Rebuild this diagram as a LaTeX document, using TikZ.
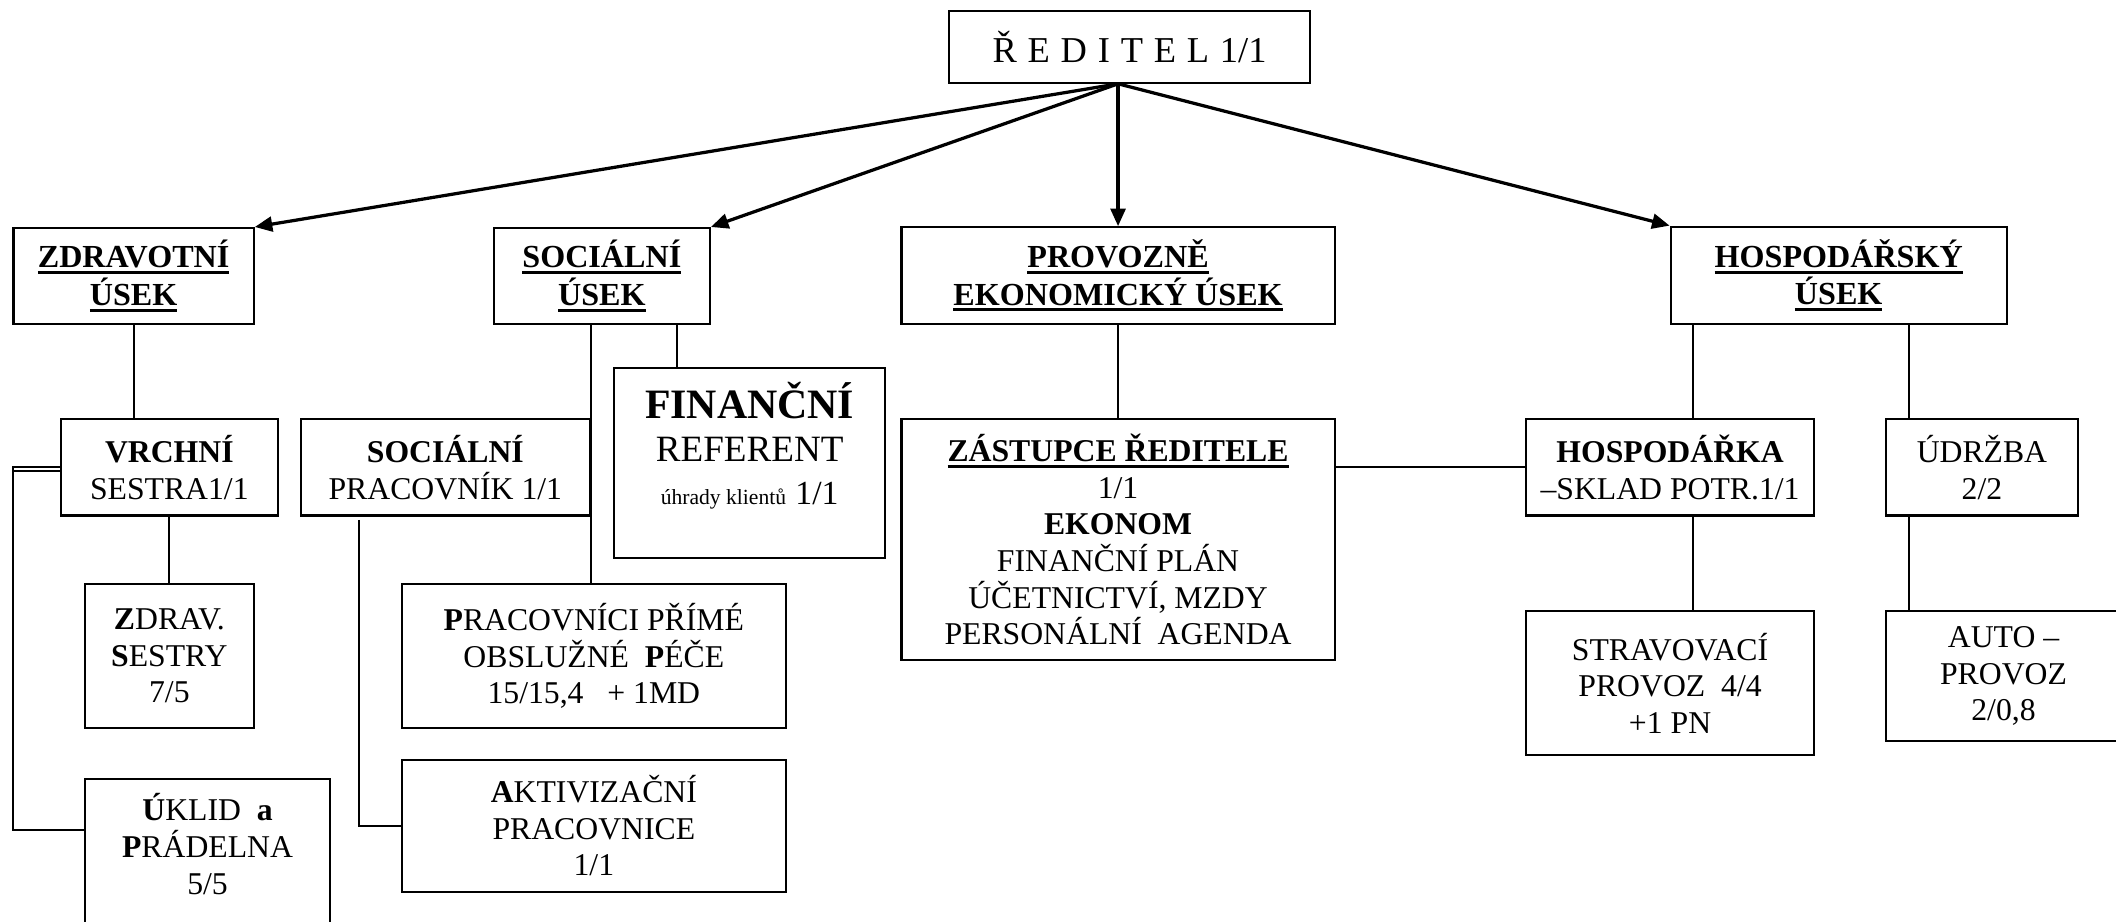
\documentclass[tikz,border=0pt]{standalone}
\usepackage{fontspec}
\setmainfont{Liberation Serif}
\usetikzlibrary{arrows.meta,calc}
\newcommand{\ulx}[1]{\setbox0=\hbox{#1}\makebox[0pt][l]{\rule[-4.6pt]{\wd0}{2.2pt}}\box0}
\newcommand{\gp}{\hspace{8pt}}
\newcommand{\obox}[7][box]{\node[#1, minimum width={(#5)-(#3)}, minimum height={(#6)-(#4)}] (#2) at ({((#3)+(#5))/2},{((#4)+(#6))/2}) {#7};}
\begin{document}
\begin{tikzpicture}[x=1pt,y=-1pt,
  box/.style={draw, line width=1.6pt, inner sep=0pt, align=center, font=\fontsize{23.5}{27.1}\selectfont},
  hd/.style={box, font=\fontsize{23.8}{27.7}\selectfont\bfseries},
  conn/.style={line width=1.5pt},
  arr/.style={line width=2.4pt, -{Triangle[length=13pt,width=11pt]}},
  txt/.style={inner sep=0pt, align=center, font=\fontsize{23.5}{27.1}\selectfont}
]
\useasboundingbox (0,0) rectangle (1568,683);
\clip (0,0) rectangle (1568,683);

% top
\obox[box, font=\fontsize{27}{30}\selectfont]{R}{703}{8.2}{971}{61.3}{Ř\gp E\gp D\gp I\gp T\gp E\gp L\gp 1/1}

% section heads
\obox[hd]{Zu}{10}{169}{188}{240}{\ulx{ZDRAVOTNÍ}\\\ulx{ÚSEK}}
\obox[hd]{Su}{366}{169}{526}{240}{\ulx{SOCIÁLNÍ}\\\ulx{ÚSEK}}
\obox[hd]{Pu}{668}{168.4}{989}{240}{\ulx{PROVOZNĚ}\\\ulx{EKONOMICKÝ ÚSEK}}
\obox[hd]{Hu}{1238}{168}{1487}{240}{\ulx{HOSPODÁŘSKÝ}\\\ulx{ÚSEK}}

% health
\obox{V}{45}{310.7}{206}{382}{\textbf{VRCHNÍ}\\SESTRA1/1}
\obox{ZS}{63}{432.5}{188}{539.7}{\textbf{Z}DRAV.\\\textbf{S}ESTRY\\7/5}
\obox{U}{63}{577}{244.5}{700}{}
\node[txt, anchor=north] (Ut) at (153.8,588) {\textbf{Ú}KLID\ \ \textbf{a}\\\textbf{P}RÁDELNA\\5/5};

% social
\obox{SP}{223}{310.7}{437}{382}{\textbf{SOCIÁLNÍ}\\PRACOVNÍK 1/1}
\obox{F}{455}{272.8}{656}{413.5}{}
\node[txt, anchor=north, font=\fontsize{27.5}{32}\selectfont] (Ft) at (555.5,283)
  {{\fontsize{31}{32}\selectfont\bfseries FINANČNÍ}\\REFERENT\\{\fontsize{16}{32}\selectfont úhrady klientů}\ {\fontsize{25}{32}\selectfont 1/1}};
\obox{PP}{297.6}{432.8}{582.5}{539.5}{\textbf{P}RACOVNÍCI PŘÍMÉ\\OBSLUŽNÉ\ \ \textbf{P}ÉČE\\15/15,4\ \ \ + 1MD}
\obox{A}{297.6}{563}{582.5}{661}{\textbf{A}KTIVIZAČNÍ\\PRACOVNICE\\1/1}

% economic
\obox{ZR}{668}{310.6}{989}{489}{\textbf{\ulx{ZÁSTUPCE ŘEDITELE}}\\1/1\\\textbf{EKONOM}\\FINANČNÍ PLÁN\\ÚČETNICTVÍ, MZDY\\PERSONÁLNÍ\ \ AGENDA}

% household
\obox{H}{1130.6}{310.7}{1344.5}{382}{\textbf{HOSPODÁŘKA}\\–SKLAD POTR.1/1}
\obox{UD}{1397.3}{310.7}{1540}{382}{ÚDRŽBA\\2/2}
\obox{ST}{1130.6}{452.8}{1344.5}{559.5}{STRAVOVACÍ\\PROVOZ\ \ 4/4\\+1 PN}
\obox{AU}{1397.3}{452.8}{1572}{549}{AUTO –\\PROVOZ\\2/0,8}

% arrows from director
\coordinate (o) at (R.south -| Pu.north);
\draw[arr] (o) -- (Zu.north east);
\draw[arr] (o) -- (Su.north east);
\draw[arr] (o) -- (Pu.north);
\draw[arr] (o) -- (Hu.north west);

% health connectors
\draw[conn] (Zu.south) -- (Zu.south |- V.north);
\draw[conn] (V.south) -- (ZS.north);
\coordinate (b1) at (9.9,615);
\draw[conn] (V.west) -| (b1) -- (b1 -| U.west);
\draw[conn] ([yshift=-2.4pt]V.west) -- ++(-34,0);

% social connectors
\coordinate (s1) at (Su.south -| SP.east);
\draw[conn] (s1) -- (s1 |- PP.north);
\coordinate (sf) at ([xshift=-25.2pt]Su.south east);
\draw[conn] (sf) -- (sf |- F.north);
\coordinate (sa) at ([xshift=44pt,yshift=-2.5pt]SP.south west);
\draw[conn] (sa) |- (A.west);

% economic connectors
\draw[conn] (Pu.south) -- (ZR.north);
\draw[conn] (H.west -| ZR.east) -- (H.west);

% household connectors
\coordinate (h1) at ([xshift=17.5pt]Hu.south west);
\draw[conn] (h1) -- (h1 |- H.north);
\coordinate (h2) at ([xshift=18pt]UD.north west);
\draw[conn] (h2 |- Hu.south) -- (h2);
\draw[conn] (h1 |- H.south) -- (h1 |- ST.north);
\draw[conn] (h2 |- UD.south) -- (h2 |- AU.north);
\end{tikzpicture}
\end{document}
